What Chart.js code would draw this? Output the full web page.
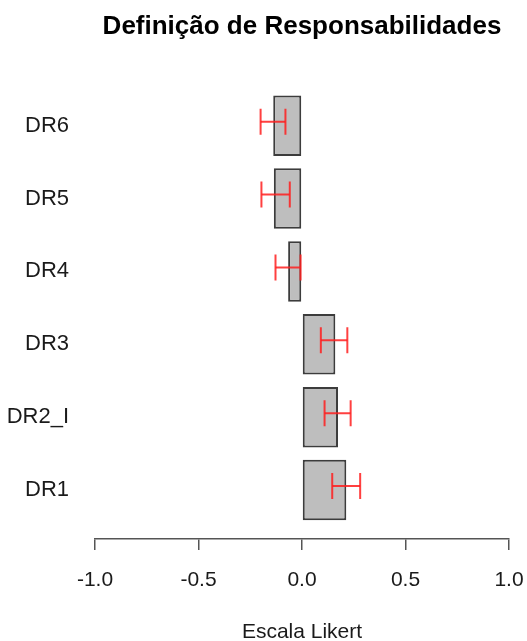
<!DOCTYPE html>
<html>
<head>
<meta charset="utf-8">
<title>Definição de Responsabilidades</title>
<script src="https://cdn.jsdelivr.net/npm/chart.js@4/dist/chart.umd.min.js"></script>
<style>
    html, body { margin: 0; padding: 0; background: #fff; }
    #wrap { width: 527px; height: 641px; position: relative; }
</style>
</head>
<body>
<div id="wrap"><canvas id="likertChart"></canvas></div>
<script>
// Chart data (bottom to top, like the R barplot)
const categories = ['DR1', 'DR2_I', 'DR3', 'DR4', 'DR5', 'DR6'];
const means = [0.214, 0.174, 0.161, -0.067, -0.136, -0.139];
const lowerBounds = [0.146, 0.109, 0.091, -0.128, -0.196, -0.200];
const upperBounds = [0.281, 0.235, 0.219, -0.007, -0.059, -0.080];
const xTicks = [-1.0, -0.5, 0.0, 0.5, 1.0];

const FONT = '"Liberation Sans", Arial, sans-serif';
const ERR_SHIFT = 0.055; // error bars sit a little above bar middle in the original
const ERR_COLOR = 'rgba(255, 30, 30, 0.85)';

document.addEventListener('DOMContentLoaded', () => {
    setupChart();
});

function buildDatasets() {
    const datasets = [{
        type: 'bar',
        data: means.map((v, i) => ({ x: v, y: i })),
        backgroundColor: '#bebebe',
        borderColor: '#3c3c3c',
        borderWidth: 2,
        borderSkipped: false,
        categoryPercentage: 1,
        barPercentage: 0.83,
        order: 1
    }];

    // One small line dataset per error bar, caps drawn as rotated line points
    categories.forEach((_, i) => {
        datasets.push({
            type: 'line',
            data: [
                { x: lowerBounds[i], y: i + ERR_SHIFT },
                { x: upperBounds[i], y: i + ERR_SHIFT }
            ],
            borderColor: ERR_COLOR,
            borderWidth: 2,
            pointStyle: 'line',
            pointRotation: 90,
            pointRadius: 13,
            pointBorderColor: ERR_COLOR,
            pointBorderWidth: 2,
            fill: false,
            order: 0
        });
    });
    return datasets;
}

function setupChart() {
    const ctx = document.getElementById('likertChart').getContext('2d');

    new Chart(ctx, {
        type: 'bar',
        data: { datasets: buildDatasets() },
        options: {
            indexAxis: 'y',
            responsive: true,
            maintainAspectRatio: false,
            animation: false,
            layout: { padding: { left: 0, right: 18, top: 0, bottom: 0 } },
            plugins: {
                legend: { display: false },
                tooltip: { enabled: false },
                title: {
                    display: true,
                    text: 'Definição de Responsabilidades',
                    fullSize: false,
                    color: '#000',
                    font: { family: FONT, size: 26, weight: 'bold' },
                    padding: { top: 11, bottom: 18 }
                }
            },
            scales: {
                x: {
                    type: 'linear',
                    min: -1,
                    max: 1,
                    afterBuildTicks: scale => {
                        scale.ticks = xTicks.map(v => ({ value: v }));
                    },
                    afterFit: scale => {
                        scale.height = 102;
                        scale.paddingLeft = 0;
                        scale.paddingRight = 0;
                    },
                    border: { display: true, color: '#555', width: 1.5 },
                    grid: {
                        display: true,
                        drawOnChartArea: false,
                        drawTicks: true,
                        tickLength: 11,
                        color: '#555',
                        lineWidth: 1.5
                    },
                    ticks: {
                        color: '#1a1a1a',
                        font: { family: FONT, size: 21 },
                        padding: 18,
                        maxRotation: 0,
                        callback: value => value.toFixed(1)
                    },
                    title: {
                        display: true,
                        text: 'Escala Likert',
                        color: '#1a1a1a',
                        font: { family: FONT, size: 21, lineHeight: 1 },
                        padding: { top: 0, bottom: -2 }
                    }
                },
                y: {
                    type: 'linear',
                    offset: false,
                    min: -0.672,
                    max: 5.898,
                    afterBuildTicks: scale => {
                        scale.ticks = categories.map((_, i) => ({ value: i }));
                    },
                    afterFit: scale => {
                        scale.width = 95;
                        scale.paddingTop = 0;
                        scale.paddingBottom = 0;
                    },
                    border: { display: false },
                    grid: { display: false, drawTicks: false },
                    ticks: {
                        color: '#1a1a1a',
                        font: { family: FONT, size: 22 },
                        padding: 26,
                        autoSkip: false,
                        callback: value => categories[value]
                    }
                }
            }
        }
    });
}
</script>
</body>
</html>
